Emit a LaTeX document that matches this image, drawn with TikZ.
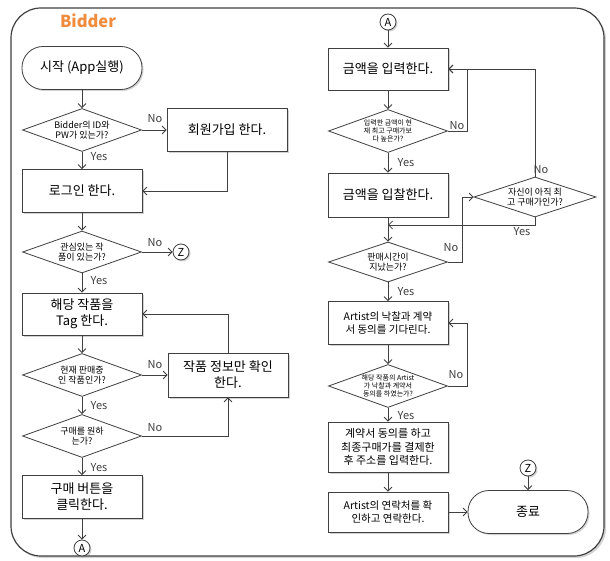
\documentclass[tikz,border=0pt]{standalone}
\usepackage{fontspec}
\setmainfont{Noto Sans CJK KR}
\usetikzlibrary{shapes.geometric,arrows.meta,shadows}
\definecolor{ln}{HTML}{404040}
\definecolor{bidc}{HTML}{F08C3C}
\begin{document}
\begin{tikzpicture}[x=1pt,y=-1pt,
  shd/.style={drop shadow={shadow xshift=1.5pt,shadow yshift=-1.5pt,opacity=.35}},
  proc/.style={draw=ln, line width=0.8pt, fill=white, minimum width=120pt, minimum height=43pt, align=center, inner sep=2pt, font=\fontsize{13}{16}\selectfont, shd},
  sproc/.style={proc, font=\fontsize{10.5}{13}\selectfont},
  term/.style={proc, rounded corners=21pt},
  dec/.style={draw=ln, line width=0.8pt, fill=white, diamond, aspect=2.8, inner sep=0pt, minimum width=119pt, minimum height=43pt, align=center, font=\fontsize{9}{10.5}\selectfont},
  tdec/.style={dec, font=\fontsize{7}{8}\selectfont},
  conn/.style={draw=ln, circle, line width=0.8pt, fill=white, minimum size=16pt, inner sep=0pt, font=\fontsize{11}{11}\selectfont, shd},
  arr/.style={draw=ln, line width=0.8pt, -{Straight Barb[length=4pt,width=8pt]}},
  lbl/.style={font=\fontsize{11}{11}\selectfont, text=ln, inner sep=1pt}
]
\useasboundingbox (0,0) rectangle (610,561);
\draw[draw=ln, line width=1.2pt, fill=white, rounded corners=30pt, drop shadow={shadow xshift=2pt,shadow yshift=-2pt,opacity=.35}] (11,8) rectangle (604,556);
\node[font=\fontsize{16.5}{16.5}\selectfont\bfseries, text=bidc] (title) at (88,21) {Bidder};

% left column
\node[term] (start) at (82,68) {시작 (App실행)};
\node[dec] (d1) at (82,130) {Bidder의 ID와\\PW가 있는가?};
\node[proc] (join) at (227,130) {회원가입 한다.};
\node[proc] (login) at (82,191) {로그인 한다.};
\node[dec, minimum height=42pt] (d2) at (82,252) {관심있는 작\\품이 있는가?};
\node[conn] (Z1) at (181,252) {Z};
\node[proc, minimum height=42pt] (tag) at (82,314) {해당 작품을\\Tag 한다.};
\node[dec] (d3) at (82,375) {현재 판매중\\인 작품인가?};
\node[proc, minimum height=44pt] (info) at (228,375) {작품 정보만 확인\\한다.};
\node[dec] (d4) at (82,436) {구매를 원하\\는가?};
\node[proc] (buy) at (82,497) {구매 버튼을\\클릭한다.};
\node[conn] (A1) at (82,548) {A};

\draw[arr] (start) -- (d1);
\draw[arr] (d1) -- (join);
\draw[arr] (d1) -- (login);
\draw[arr] (join.south) |- (login.east);
\draw[arr] (login) -- (d2);
\draw[arr] (d2) -- (Z1);
\draw[arr] (d2) -- (tag);
\draw[arr] (tag) -- (d3);
\draw[arr] (d3) -- (info);
\draw[arr] (info.north) |- (tag.east);
\draw[arr] (d3) -- (d4);
\draw[arr] (d4.east) -| (info.south);
\draw[arr] (d4) -- (buy);
\draw[arr] (buy) -- (A1);

\node[lbl] (l1n) at (155,119) {No};
\node[lbl] (l1y) at (99,157) {Yes};
\node[lbl] (l2n) at (155,243) {No};
\node[lbl] (l2y) at (99,281) {Yes};
\node[lbl] (l3n) at (155,365) {No};
\node[lbl] (l3y) at (99,406) {Yes};
\node[lbl] (l4n) at (155,428) {No};
\node[lbl] (l4y) at (99,468) {Yes};

% right column
\node[conn] (A2) at (388,22) {A};
\node[proc, minimum height=42pt] (amount) at (388,69) {금액을 입력한다.};
\node[tdec] (d5) at (388,131) {입력한 금액이 현\\재 최고 구매가보\\다 높은가?};
\node[proc, minimum height=44pt] (bid) at (388,195) {금액을 입찰한다.};
\node[dec, minimum width=122pt, minimum height=40pt] (d6) at (535,197) {자신이 아직 최\\고 구매가인가?};
\node[dec, minimum height=40pt] (d7) at (388,262) {판매시간이\\지났는가?};
\node[sproc] (wait) at (388,323) {Artist의 낙찰과 계약\\서 동의를 기다린다.};
\node[tdec] (d8) at (388,386) {해당 작품의 Artist\\가 낙찰과 계약서\\동의를 하였는가?};
\node[sproc, font=\fontsize{11}{13.5}\selectfont, minimum height=50pt] (contract) at (388,447) {계약서 동의를 하고\\최종구매가를 결제한\\후 주소를 입력한다.};
\node[sproc, minimum height=40pt] (contact) at (388,512) {Artist의 연락처를 확\\인하고 연락한다.};
\node[term] (end) at (528,512) {종료};
\node[conn] (Z2) at (528,468) {Z};

\coordinate (n5) at (467,131);
\coordinate (y6) at (388,225);
\coordinate (n7) at (462,262);
\coordinate (n8) at (467,386);

\draw[arr] (A2) -- (amount);
\draw[arr] (amount) -- (d5);
\draw[arr] (d5.east) -- (n5) |- (amount.east);
\draw[arr] (d5) -- (bid);
\draw[arr] (bid) -- (d7);
\draw[arr] (d6.north) |- (amount.east);
\draw[arr] (d6.south) |- (y6);
\draw[arr] (d7.east) -- (n7) |- (d6.west);
\draw[arr] (d7) -- (wait);
\draw[arr] (wait) -- (d8);
\draw[arr] (d8.east) -- (n8) |- (wait.east);
\draw[arr] (d8) -- (contract);
\draw[arr] (contract) -- (contact);
\draw[arr] (contact) -- (end);
\draw[arr] (Z2) -- (end);

\node[lbl] (l5n) at (457,126) {No};
\node[lbl] (l5y) at (406,163) {Yes};
\node[lbl] (l6n) at (541,170) {No};
\node[lbl] (l6y) at (522,232) {Yes};
\node[lbl] (l7n) at (451,248) {No};
\node[lbl] (l7y) at (406,292) {Yes};
\node[lbl] (l8n) at (456,375) {No};
\node[lbl] (l8y) at (406,416) {Yes};
\end{tikzpicture}
\end{document}
